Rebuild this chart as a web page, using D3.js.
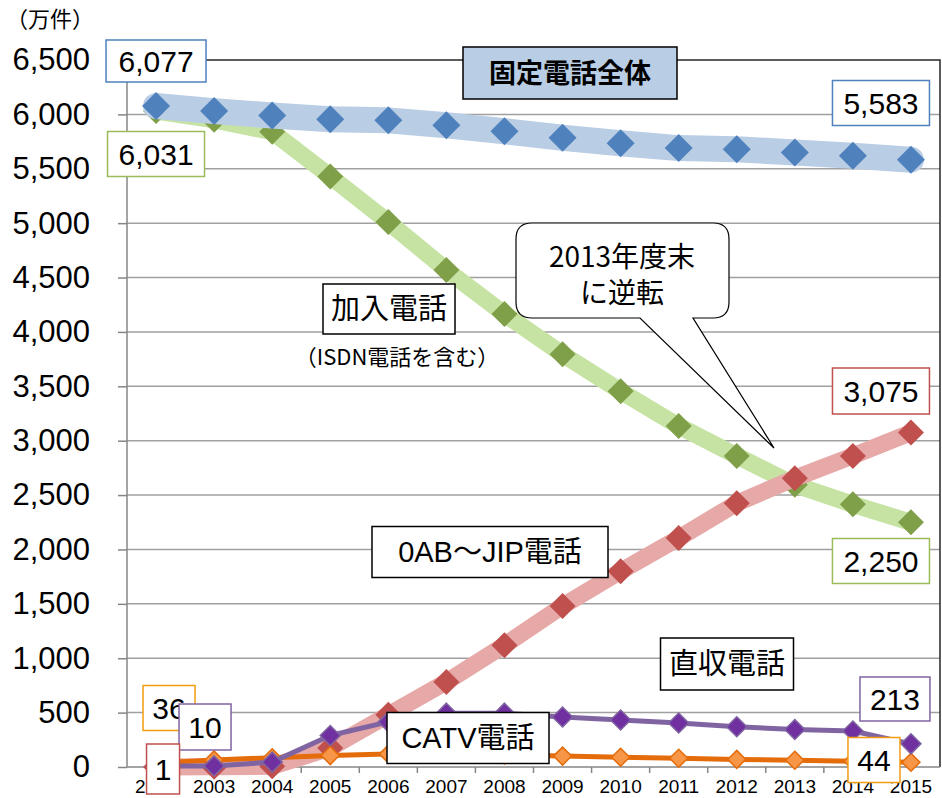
<!DOCTYPE html>
<html>
<head>
<meta charset="utf-8">
<script src="https://cdn.jsdelivr.net/npm/d3@7"></script>
<style>
  body { margin: 0; background: #fff; }
  svg { display: block; font-family: "Liberation Sans", "Noto Sans CJK JP", sans-serif; }
  .grid line { stroke: #a0a0a0; stroke-width: 1.5px; }
  .axis path, .axis line { stroke: #868686; stroke-width: 1.5px; }
  .axis text { fill: #000; }
  .jp { font-family: "Noto Sans CJK JP", sans-serif; }
</style>
</head>
<body>
<svg id="chart" width="942" height="798"></svg>
<script>
var years = [2002, 2003, 2004, 2005, 2006, 2007, 2008, 2009, 2010, 2011, 2012, 2013, 2014, 2015];
var yTicks = [0, 500, 1000, 1500, 2000, 2500, 3000, 3500, 4000, 4500, 5000, 5500, 6000, 6500];

// 固定電話全体
var totalValues = [6077, 6030, 5990, 5955, 5945, 5900, 5845, 5785, 5735, 5690, 5680, 5650, 5620, 5583];
// 加入電話（ISDN含む）
var subscriberValues = [6031, 5950, 5840, 5430, 5010, 4570, 4165, 3795, 3455, 3135, 2860, 2595, 2415, 2250];
// 0AB～JIP電話
var ipValues = [1, 2, 6, 175, 480, 782, 1120, 1480, 1800, 2105, 2425, 2655, 2860, 3075];
// 直収電話
var directValues = [36, 65, 85, 105, 120, 120, 110, 100, 90, 80, 70, 62, 54, 44];
// CATV電話
var catvValues = [10, 10, 45, 290, 415, 495, 495, 460, 432, 404, 370, 345, 331, 213];

var svg = d3.select("#chart");
var plot = { left: 127, right: 940, top: 60, bottom: 767 };

var x = d3.scaleBand().domain(years).range([plot.left, plot.right]);
var y = d3.scaleLinear().domain([0, 6500]).range([plot.bottom, plot.top]);
var cx = function(d) { return x(d) + x.bandwidth() / 2; };

// gridlines
svg.append("g").attr("class", "grid")
  .selectAll("line").data(yTicks.filter(function(d) { return d > 0 && d < 6500; }))
  .enter().append("line")
    .attr("x1", plot.left).attr("x2", plot.right)
    .attr("y1", function(d) { return y(d); }).attr("y2", function(d) { return y(d); });

// plot border (top / right)
svg.append("path")
  .attr("d", "M" + plot.left + "," + y(6500) + "H" + plot.right + "V" + plot.bottom)
  .attr("fill", "none").attr("stroke", "#262626").attr("stroke-width", 1.5);

// y axis
var yAxis = svg.append("g").attr("class", "axis")
  .attr("transform", "translate(" + plot.left + ",0)")
  .call(d3.axisLeft(y).tickValues(yTicks).tickSize(9).tickPadding(28).tickFormat(d3.format(",")));
yAxis.select(".domain").attr("d", "M0," + y(6500) + "V" + plot.bottom);
yAxis.selectAll("text").attr("font-size", 31);

// x axis: labels centred in bands, ticks on band edges
var xAxis = svg.append("g").attr("class", "axis")
  .attr("transform", "translate(0," + plot.bottom + ")")
  .call(d3.axisBottom(x).tickSize(0).tickPadding(13));
xAxis.select(".domain").attr("d", "M" + plot.left + ",0H" + plot.right);
xAxis.selectAll("text").attr("font-size", 19);
xAxis.selectAll(".edge").data(years.slice(1))
  .enter().append("line").attr("class", "edge")
    .attr("x1", function(d) { return x(d); }).attr("x2", function(d) { return x(d); })
    .attr("y1", 0).attr("y2", 6);

svg.append("text").attr("class", "jp")
  .attr("x", 6).attr("y", 27).attr("font-size", 22)
  .text("（万件）");

// series, drawn back to front
var series = [
  { name: "加入電話", values: subscriberValues, band: "#c6e3a3", bandWidth: 17, fill: "#7f9f48", stroke: "none", r: 13 },
  { name: "固定電話全体", values: totalValues, band: "#b9cde5", bandWidth: 26, fill: "#4f81bd", stroke: "none", r: 14 },
  { name: "0AB～JIP電話", values: ipValues, band: "#e6a9a8", bandWidth: 17, fill: "#c0504d", stroke: "none", r: 13 },
  { name: "直収電話", values: directValues, band: "#e46c0a", bandWidth: 5, fill: "#f79646", stroke: "#e46c0a", r: 9 },
  { name: "CATV電話", values: catvValues, band: "#8064a2", bandWidth: 5, fill: "#7030a0", stroke: "#8064a2", r: 10 }
];

var line = d3.line()
  .x(function(d, i) { return cx(years[i]); })
  .y(function(d) { return y(d); });

series.forEach(function(s) {
  var g = svg.append("g");
  g.append("path")
    .attr("d", line(s.values))
    .attr("fill", "none")
    .attr("stroke", s.band)
    .attr("stroke-width", s.bandWidth)
    .attr("stroke-linejoin", "round")
    .attr("stroke-linecap", "round");
  g.selectAll("path.pt").data(s.values)
    .enter().append("path").attr("class", "pt")
      .attr("transform", function(d, i) { return "translate(" + cx(years[i]) + "," + y(d) + ")"; })
      .attr("d", "M0," + (-s.r) + "L" + s.r + ",0L0," + s.r + "L" + (-s.r) + ",0Z")
      .attr("fill", s.fill)
      .attr("stroke", s.stroke)
      .attr("stroke-width", 1.5);
});

// text boxes
function textBox(o) {
  var g = svg.append("g").attr("transform", "translate(" + o.x + "," + o.y + ")");
  g.append("rect")
    .attr("x", -o.w / 2).attr("y", -o.h / 2)
    .attr("width", o.w).attr("height", o.h)
    .attr("fill", o.fill || "#fff")
    .attr("stroke", o.stroke || "#000")
    .attr("stroke-width", o.sw || 1.5);
  g.append("text")
    .attr("class", o.cls || null)
    .attr("text-anchor", "middle")
    .attr("dy", "0.36em")
    .attr("font-size", o.size || 29)
    .attr("font-weight", o.bold ? "bold" : null)
    .text(o.text);
}

// series name labels
textBox({ text: "固定電話全体", x: 570, y: 73, w: 214, h: 52, fill: "#b9cde5", cls: "jp", size: 27, bold: true });
textBox({ text: "加入電話", x: 389, y: 309, w: 132, h: 50, cls: "jp", size: 29 });
svg.append("text").attr("class", "jp")
  .attr("x", 397).attr("y", 357).attr("dy", "0.36em")
  .attr("text-anchor", "middle").attr("font-size", 22)
  .text("（ISDN電話を含む）");
textBox({ text: "0AB～JIP電話", x: 490, y: 552, w: 236, h: 51, size: 29 });
textBox({ text: "直収電話", x: 727, y: 664, w: 133, h: 52, cls: "jp", size: 29 });
textBox({ text: "CATV電話", x: 468, y: 738, w: 162, h: 51, size: 29 });

// callout
var co = { x0: 516, y0: 223, x1: 729, y1: 318, r: 16, b0: 640, b1: 693, tipX: 774, tipY: 448 };
svg.append("path")
  .attr("d",
    "M" + (co.x0 + co.r) + "," + co.y0 +
    "H" + (co.x1 - co.r) + "Q" + co.x1 + "," + co.y0 + " " + co.x1 + "," + (co.y0 + co.r) +
    "V" + (co.y1 - co.r) + "Q" + co.x1 + "," + co.y1 + " " + (co.x1 - co.r) + "," + co.y1 +
    "H" + co.b1 + "L" + co.tipX + "," + co.tipY + "L" + co.b0 + "," + co.y1 +
    "H" + (co.x0 + co.r) + "Q" + co.x0 + "," + co.y1 + " " + co.x0 + "," + (co.y1 - co.r) +
    "V" + (co.y0 + co.r) + "Q" + co.x0 + "," + co.y0 + " " + (co.x0 + co.r) + "," + co.y0 + "Z")
  .attr("fill", "#fff").attr("stroke", "#000").attr("stroke-width", 1.2);
svg.append("text").attr("class", "jp")
  .attr("x", 622).attr("y", 257).attr("dy", "0.36em")
  .attr("text-anchor", "middle").attr("font-size", 28)
  .text("2013年度末");
svg.append("text").attr("class", "jp")
  .attr("x", 622).attr("y", 293).attr("dy", "0.36em")
  .attr("text-anchor", "middle").attr("font-size", 28)
  .text("に逆転");

// value labels
var fmt = d3.format(",");
var first = 0, last = years.length - 1;
var valueLabels = [
  { v: totalValues[first], x: cx(years[first]), y: 61, w: 100, h: 42, stroke: "#4f81bd" },
  { v: subscriberValues[first], x: cx(years[first]), y: 154, w: 97, h: 45, stroke: "#9bbb59" },
  { v: totalValues[last], x: cx(years[last]) - 30, y: 103, w: 97, h: 45, stroke: "#4f81bd" },
  { v: ipValues[last], x: cx(years[last]) - 30, y: 391, w: 97, h: 46, stroke: "#c0504d" },
  { v: subscriberValues[last], x: cx(years[last]) - 30, y: 561, w: 97, h: 45, stroke: "#9bbb59" },
  { v: catvValues[last], x: cx(years[last]) - 16, y: 699, w: 70, h: 44, stroke: "#8064a2" },
  { v: directValues[last], x: cx(years[last]) - 37, y: 760, w: 52, h: 45, stroke: "#f39c12" },
  { v: directValues[first], x: cx(years[first]) + 13, y: 708, w: 52, h: 45, stroke: "#f39c12" },
  { v: catvValues[first], x: cx(years[first]) + 49, y: 727, w: 52, h: 46, stroke: "#8064a2" },
  { v: ipValues[first], x: cx(years[first]) + 7, y: 769, w: 33, h: 50, stroke: "#c0504d" }
];
valueLabels.forEach(function(l) {
  textBox({ text: fmt(l.v), x: l.x, y: l.y, w: l.w, h: l.h, stroke: l.stroke, size: 30 });
});
</script>
</body>
</html>
